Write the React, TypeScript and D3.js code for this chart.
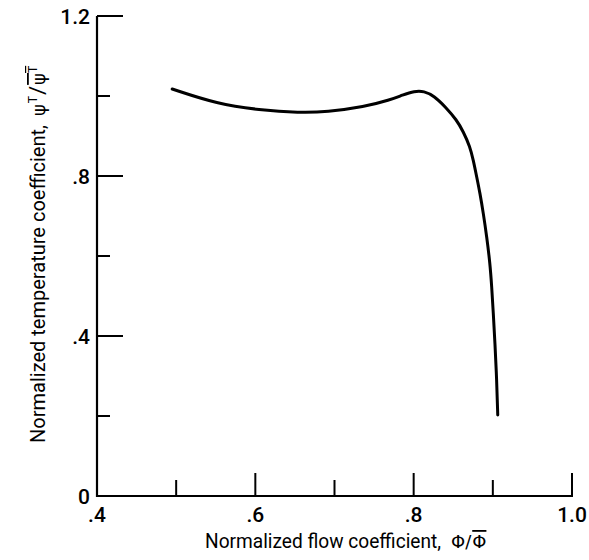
import React from "react";
import * as d3 from "d3";

const flowX = [0.495, 0.552, 0.605, 0.656, 0.69, 0.738, 0.77, 0.786, 0.801, 0.813, 0.826, 0.84, 0.8544, 0.8627, 0.8712, 0.8753, 0.8796, 0.8838, 0.888, 0.8923, 0.8964, 0.8986, 0.9006, 0.9027, 0.9049, 0.9062];
const tempY = [1.0175, 0.98, 0.965, 0.958, 0.96, 0.973, 0.99, 1.0025, 1.0125, 1.0125, 1.0, 0.973, 0.94, 0.9108, 0.8733, 0.84, 0.7983, 0.7567, 0.7067, 0.6483, 0.5817, 0.5233, 0.4567, 0.3817, 0.29, 0.2025];
const xMajorTicks = [0.6, 0.8, 1.0];
const xMinorTicks = [0.5, 0.7, 0.9];
const xTickLabels = [".4", ".6", ".8", "1.0"];
const xTickLabelValues = [0.4, 0.6, 0.8, 1.0];
const yMajorTicks = [1.2, 0.8, 0.4];
const yMinorTicks = [1.0, 0.6, 0.2];
const yTickLabels = ["0", ".4", ".8", "1.2"];
const yTickLabelValues = [0, 0.4, 0.8, 1.2];

const W = 589;
const H = 560;
const FONT = "Roboto, 'Liberation Sans', sans-serif";
const SYM = "'DejaVu Sans', sans-serif";

export default function App() {
  const x = d3.scaleLinear().domain([0.4, 1.0]).range([97, 572]);
  const y = d3.scaleLinear().domain([0, 1.2]).range([496, 16]);
  const pts: [number, number][] = flowX.map((v, i) => [v, tempY[i]]);
  const line = d3
    .line<[number, number]>()
    .x((d) => x(d[0]))
    .y((d) => y(d[1]))
    .curve(d3.curveBasis);

  return (
    <svg
      width={W}
      height={H}
      style={{ position: "absolute", left: 0, top: 0, background: "#fff" }}
    >
      <rect x={0} y={0} width={W} height={H} fill="#fff" />
      {/* axes */}
      <line x1={x(0.4)} x2={x(0.4)} y1={y(1.2)} y2={y(0) + 1} stroke="#000" strokeWidth={2.2} />
      <line x1={x(0.4) - 1} x2={x(1.0) + 1} y1={y(0)} y2={y(0)} stroke="#000" strokeWidth={2.2} />
      {/* y ticks */}
      {yMajorTicks.map((t) => (
        <line key={"ym" + t} x1={x(0.4)} x2={x(0.4) + 26} y1={y(t)} y2={y(t)} stroke="#000" strokeWidth={2} />
      ))}
      {yMinorTicks.map((t) => (
        <line key={"yn" + t} x1={x(0.4)} x2={x(0.4) + 13} y1={y(t)} y2={y(t)} stroke="#000" strokeWidth={2} />
      ))}
      {/* x ticks */}
      {xMajorTicks.map((t) => (
        <line key={"xm" + t} x1={x(t)} x2={x(t)} y1={y(0)} y2={y(0) - 23} stroke="#000" strokeWidth={2} />
      ))}
      {xMinorTicks.map((t) => (
        <line key={"xn" + t} x1={x(t)} x2={x(t)} y1={y(0)} y2={y(0) - 16} stroke="#000" strokeWidth={2} />
      ))}
      {/* tick labels */}
      {yTickLabels.map((s, i) => (
        <text
          key={"yl" + s}
          x={90}
          y={y(yTickLabelValues[i]) + 7.5}
          textAnchor="end"
          fontFamily={FONT}
          fontWeight={500}
          fontSize={21}
          fill="#000"
        >
          {s}
        </text>
      ))}
      {xTickLabels.map((s, i) => (
        <text
          key={"xl" + s}
          x={x(xTickLabelValues[i])}
          y={522}
          textAnchor="middle"
          fontFamily={FONT}
          fontWeight={500}
          fontSize={21}
          fill="#000"
        >
          {s}
        </text>
      ))}
      {/* curve */}
      <path d={line(pts) || ""} fill="none" stroke="#000" strokeWidth={3} strokeLinecap="round" strokeLinejoin="round" />
      {/* x title */}
      <text x={205} y={548} fontFamily={FONT} fontSize={20} fill="#000">
        <tspan textLength={236} lengthAdjust="spacingAndGlyphs">Normalized flow coefficient,</tspan>
        <tspan dx={10} fontFamily={SYM} fontSize={18}>Φ/</tspan>
        <tspan dx={1} fontFamily={SYM} fontSize={18} textDecoration="overline">Φ</tspan>
      </text>
      {/* y title */}
      <text
        transform="translate(45,443) rotate(-90)"
        fontFamily={FONT}
        fontSize={20}
        fill="#000"
      >
        <tspan textLength={318} lengthAdjust="spacingAndGlyphs">Normalized temperature coefficient,</tspan>
        <tspan dx={9} fontFamily={SYM} fontSize={18}>ψ</tspan>
        <tspan dx={1} dy={-8} fontSize={12}>T</tspan>
        <tspan dx={1} dy={8} fontSize={22}>/</tspan>
        <tspan dx={1} fontFamily={SYM} fontSize={18} textDecoration="overline">ψ</tspan>
        <tspan dx={0} dy={-8} fontSize={12} textDecoration="overline">T</tspan>
      </text>
    </svg>
  );
}
